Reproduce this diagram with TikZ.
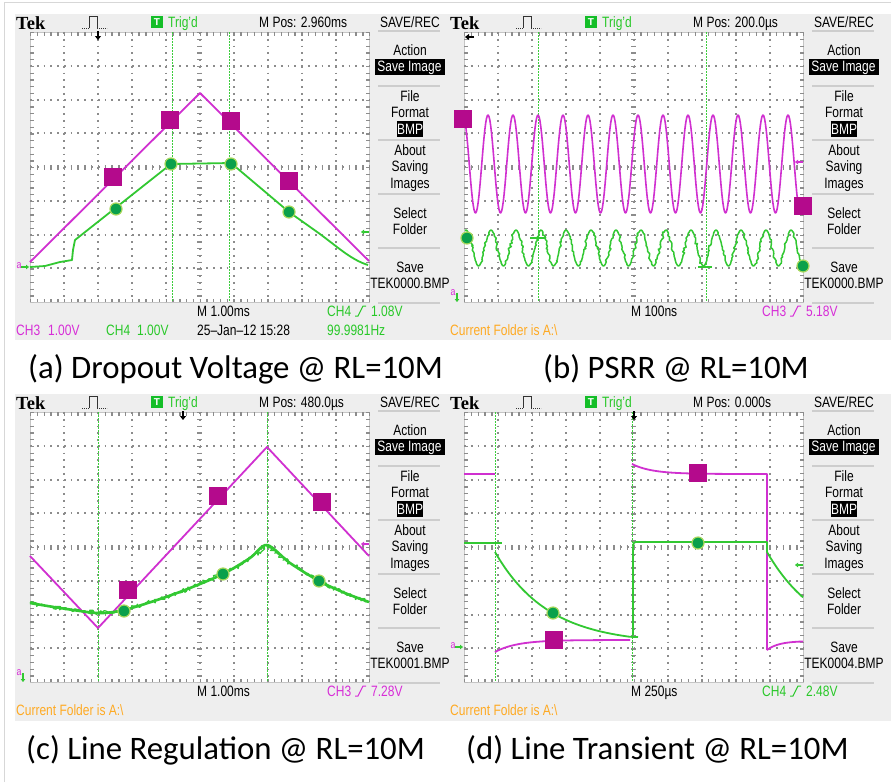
\documentclass[tikz,border=0pt]{standalone}
\usepackage{fontspec}
\usetikzlibrary{arrows.meta,decorations.pathmorphing}
\newfontfamily\scopefont[FakeStretch=0.8]{Liberation Sans}
\newfontfamily\plainsans{Liberation Sans}
\newfontfamily\tekfont{Liberation Serif}
\newfontfamily\capfont{Carlito}
\definecolor{scrgray}{RGB}{238,238,238}
\definecolor{gridgray}{RGB}{140,140,140}
\definecolor{sepgray}{RGB}{205,205,205}
\definecolor{edgegray}{RGB}{215,215,215}
\definecolor{trmag}{RGB}{208,48,208}
\definecolor{mkmag}{RGB}{180,10,140}
\definecolor{trgreen}{RGB}{50,200,50}
\definecolor{curgreen}{RGB}{60,205,60}
\definecolor{mkgreen}{RGB}{10,160,75}
\definecolor{mkgreenb}{RGB}{165,215,90}
\definecolor{tgreen}{RGB}{20,190,40}
\definecolor{lgreen}{RGB}{40,200,40}
\definecolor{lmag}{RGB}{215,45,215}
\definecolor{lorange}{RGB}{255,170,35}
\tikzset{
  stxt/.style={font=\scopefont\fontsize{15}{15}\selectfont, anchor=base west, inner sep=0pt},
  mtxt/.style={stxt, anchor=base},
  tek/.style={font=\tekfont\bfseries\fontsize{18.5}{18.5}\selectfont, anchor=base west, inner sep=0pt},
  capt/.style={font=\capfont\fontsize{32.8}{32.8}\selectfont, anchor=base west, inner sep=0pt},
  gdotv/.style={draw=gridgray, line width=2pt, dash pattern=on 1.8pt off 4.95pt},
  gdoth/.style={draw=gridgray, line width=2pt, dash pattern=on 1.8pt off 4.98pt},
  gtickv/.style={draw=gridgray, line width=5pt, dash pattern=on 1.4pt off 5.35pt},
  gtickh/.style={draw=gridgray, line width=5pt, dash pattern=on 1.4pt off 5.38pt},
  gedgev/.style={draw=gridgray, line width=3.5pt, dash pattern=on 1.4pt off 5.35pt},
  gedgeh/.style={draw=gridgray, line width=3.5pt, dash pattern=on 1.4pt off 5.38pt},
  gborder/.style={draw=gridgray!50, line width=0.6pt},
  sep/.style={draw=sepgray, line width=1.2pt},
  cursor/.style={draw=curgreen, line width=1pt, dash pattern=on 1.5pt off 1.5pt},
  magtr/.style={draw=trmag, line width=1.8pt, line join=round},
  grntr/.style={draw=trgreen, line width=1.8pt, line join=round},
  msq/.style={rectangle, fill=mkmag, minimum size=18pt, inner sep=0pt},
  gcirc/.style={circle, fill=mkgreen, draw=mkgreenb, line width=1.2pt, minimum size=12pt, inner sep=0pt},
  trarrow/.style={draw=black, line width=1.4pt, -{Triangle[length=4pt,width=6pt]}},
  smallarr/.style={line width=1.1pt, -{Triangle[length=3pt,width=4.5pt]}},
  pulsedot/.style={draw=black!80, line width=0.8pt, dash pattern=on 0.8pt off 1.2pt},
  pulsesol/.style={draw=black!80, line width=0.9pt},
  slopeg/.style={line width=1pt},
  gndtxt/.style={font=\scopefont\fontsize{11}{11}\selectfont, inner sep=0pt, text=lmag},
  tbox/.style={font=\plainsans\bfseries\fontsize{10}{10}\selectfont, inner sep=0pt, text=white, anchor=center},
}
\newcommand\tekframe[4]{%
  \fill[white] (30,32) rectangle (369.5,302);
  \draw[gborder] (30,32) rectangle (369.5,302);
  \foreach \i in {1,...,9} {\draw[gdotv] ({30+33.95*\i},32) -- ({30+33.95*\i},302);}
  \foreach \j in {1,...,7} {\draw[gdoth] (30,{32+33.75*\j}) -- (369.5,{32+33.75*\j});}
  \draw[gtickv] (199.75,32) -- (199.75,302);
  \draw[gtickh] (30,167) -- (369.5,167);
  \draw[gedgev] (31.75,32) -- (31.75,302);
  \draw[gedgev] (367.75,32) -- (367.75,302);
  \draw[gedgeh] (30,33.75) -- (369.5,33.75);
  \draw[gedgeh] (30,300.25) -- (369.5,300.25);
  \node[tek] (#1-tek) at (16,29) {Tek};
  \draw[pulsedot] (82,28) -- (89,28);
  \draw[pulsesol] (89,28) -- (89,16) -- (97,16) -- (97,28);
  \draw[pulsedot] (97,28) -- (107,28);
  \fill[tgreen] (151,16) rectangle (163,28);
  \node[tbox] (#1-tT) at (157,22) {T};
  \node[stxt, text=lgreen] (#1-trig) at (168,27) {Trig’d};
  \node[stxt] (#1-mpos) at (259,27) {M Pos: #2};
  \node[mtxt] (#1-sr) at (410,27) {SAVE/REC};
  \foreach \yy in {31,86,140,194,248,303} {\draw[sep] (378,\yy) -- (440,\yy);}
  \node[mtxt] (#1-act) at (410,55) {Action};
  \fill[black] (375,59) rectangle (445,75);
  \node[mtxt, text=white] (#1-si) at (409.5,71) {Save Image};
  \node[mtxt] (#1-file) at (410,101) {File};
  \node[mtxt] (#1-fmt) at (410,117) {Format};
  \fill[black] (397,121) rectangle (423,137);
  \node[mtxt, text=white] (#1-bmp) at (410,134) {BMP};
  \node[mtxt] (#1-ab) at (410,155) {About};
  \node[mtxt] (#1-sv) at (410,171) {Saving};
  \node[mtxt] (#1-im) at (410,188) {Images};
  \node[mtxt] (#1-sel) at (410,218) {Select};
  \node[mtxt] (#1-fol) at (410,234) {Folder};
  \node[mtxt] (#1-sa) at (410,272) {Save};
  \node[mtxt] (#1-tf) at (410,288) {#3};
  \node[stxt] (#1-tb) at (197,316) {M #4};
}
\begin{document}
\begin{tikzpicture}[x=1pt,y=-1pt]
\pgfmathsetseed{7}
\useasboundingbox (0,0) rectangle (891,782);
\fill[white] (0,0) rectangle (891,782);
\draw[edgegray, line width=1pt] (4,782) -- (4,2) -- (891,2);
\fill[scrgray] (15,14) rectangle (891,340);
\fill[scrgray] (15,394) rectangle (891,721);

% ---------- panel (a)
\begin{scope}
\clip (0,0) rectangle (448,345);
\tekframe{a}{2.960ms}{TEK0000.BMP}{1.00ms}
\draw[cursor] (172,32) -- (172,302);
\draw[cursor] (229,32) -- (229,302);
\draw[trarrow] (98,31) -- (98,40);
\draw[magtr] (30,262) -- (200,93) -- (369,261);
\draw[grntr] (30,267) -- (45,266) -- (60,262) -- (72,260) -- (73,250) -- (75,240) -- (171,164) -- (231,163) -- (289,212) -- (320,234) .. controls (340,249) and (352,260) .. (368,265);
\node[msq] (a-s1) at (113,177) {};
\node[msq] (a-s2) at (170,120) {};
\node[msq] (a-s3) at (231,121) {};
\node[msq] (a-s4) at (289,181) {};
\node[gcirc] (a-c1) at (116,209) {};
\node[gcirc] (a-c2) at (171,164) {};
\node[gcirc] (a-c3) at (231,164) {};
\node[gcirc] (a-c4) at (289,212) {};
\node[gndtxt] (a-gnd) at (19,266) {a};
\draw[smallarr, trgreen] (21,267) -- (29,267);
\draw[smallarr, trgreen] (369,232) -- (361,232);
\node[stxt, text=lgreen] (a-tch) at (327,316) {CH4};
\draw[slopeg, lgreen] (355,316) -- (358,316) -- (363,306) -- (366,306);
\node[stxt, text=lgreen] (a-tv) at (371,316) {1.08V};
\node[stxt, text=lmag] (a-ch3) at (16,335) {CH3};
\node[stxt, text=lmag] (a-ch3v) at (48,335) {1.00V};
\node[stxt, text=lgreen] (a-ch4) at (106,335) {CH4};
\node[stxt, text=lgreen] (a-ch4v) at (137,335) {1.00V};
\node[stxt] (a-date) at (197,335) {25–Jan–12 15:28};
\node[stxt, text=lgreen] (a-hz) at (327,335) {99.9981Hz};
\end{scope}

% ---------- panel (b)
\begin{scope}[shift={(434,0)}]
\tekframe{b}{200.0µs}{TEK0000.BMP}{100ns}
\draw[cursor] (104,32) -- (104,302);
\draw[cursor] (272,32) -- (272,302);
\draw[trarrow] (40,37) -- (31,37);
\draw[magtr, line width=1.6pt] plot[domain=30:363, samples=400] (\x, {164-49*cos(14.4*(\x-54))}) -- (364,203);
\draw[grntr, line width=1.5pt, decorate, decoration={random steps, segment length=2pt, amplitude=1.3pt}] plot[domain=31:369, samples=300] (\x, {248-18*cos(14.4*(\x-57))});
\draw[trgreen, line width=1.2pt] (96,238) -- (111,238);
\draw[trgreen, line width=1.2pt] (264,267) -- (278,267);
\node[msq] (b-s1) at (29,119) {};
\node[msq] (b-s2) at (369,206) {};
\node[gcirc] (b-c1) at (33,238) {};
\node[gcirc] (b-c2) at (369,266) {};
\node[gndtxt] (b-gnd) at (19,293) {a};
\draw[smallarr, trgreen] (23,293) -- (23,302);
\draw[smallarr, trmag] (369,162) -- (361,162);
\node[stxt, text=lmag] (b-tch) at (328,316) {CH3};
\draw[slopeg, lmag] (356,316) -- (359,316) -- (364,306) -- (367,306);
\node[stxt, text=lmag] (b-tv) at (372,316) {5.18V};
\node[stxt, text=lorange] (b-cf) at (16,335) {Current Folder is A:\textbackslash};
\end{scope}

% ---------- panel (c)
\begin{scope}[shift={(0,380)}]
\clip (0,0) rectangle (448,345);
\tekframe{c}{480.0µs}{TEK0001.BMP}{1.00ms}
\draw[cursor] (98,32) -- (98,302);
\draw[cursor] (267,32) -- (267,302);
\draw[trarrow] (183,31) -- (183,40);
\draw[magtr] (30,176) -- (98,248) -- (267,67) -- (369,176);
\draw[grntr, line width=2.6pt] plot[smooth] coordinates {(30,223) (60,228) (98,233) (124,230) (160,219) (190,208) (223,194) (250,178) (267,165) (290,183) (319,201) (345,213) (369,222)};
\draw[grntr, line width=1.2pt, decorate, decoration={random steps, segment length=1.5pt, amplitude=2.2pt}] (30,223) -- (45,226) -- (60,228) -- (80,231) -- (98,233) -- (110,232) -- (124,230) -- (142,225) -- (160,219) -- (175,214) -- (190,208) -- (206,201) -- (223,194) -- (237,187) -- (250,178) -- (259,172) -- (267,165) -- (278,174) -- (290,183) -- (304,192) -- (319,201) -- (332,207) -- (345,213) -- (357,218) -- (369,222);
\node[msq] (c-s1) at (128,210) {};
\node[msq] (c-s2) at (218,116) {};
\node[msq] (c-s3) at (322,122) {};
\node[gcirc] (c-c1) at (124,231) {};
\node[gcirc] (c-c2) at (223,194) {};
\node[gcirc] (c-c3) at (319,201) {};
\node[gndtxt] (c-gnd) at (19,293) {a};
\draw[smallarr, trgreen] (23,293) -- (23,302);
\draw[smallarr, trmag] (369,164) -- (361,164);
\node[stxt, text=lmag] (c-tch) at (327,316) {CH3};
\draw[slopeg, lmag] (355,316) -- (358,316) -- (363,306) -- (366,306);
\node[stxt, text=lmag] (c-tv) at (371,316) {7.28V};
\node[stxt, text=lorange] (c-cf) at (16,335) {Current Folder is A:\textbackslash};
\end{scope}

% ---------- panel (d)
\begin{scope}[shift={(434,380)}]
\tekframe{d}{0.000s}{TEK0004.BMP}{250µs}
\draw[cursor] (61,32) -- (61,302);
\draw[cursor] (198,32) -- (198,302);
\draw[trarrow] (200,31) -- (200,40);
\draw[magtr] (30,94) -- (61,94);
\draw[magtr] plot[domain=61:196, samples=60] (\x, {260+12*exp(-(\x-61)/22)});
\draw[magtr] plot[domain=198:333, samples=60] (\x, {94-10*exp(-(\x-198)/20)}) -- (333,270);
\draw[magtr] plot[domain=333:369, samples=20] (\x, {261+9*exp(-(\x-333)/12)});
\draw[grntr] (30,163) -- (68,163);
\draw[grntr] plot[domain=61:196, samples=60] (\x, {264-92*exp(-(\x-61)/53)}) -- (204,257);
\draw[grntr] (199,255) -- (199,168) .. controls (199.5,162) .. (204,162) -- (333,162) -- (333,172);
\draw[grntr] plot[domain=333:369, samples=20] (\x, {264-92*exp(-(\x-333)/53)});
\node[msq] (d-s1) at (120,260) {};
\node[msq] (d-s2) at (264,93) {};
\node[gcirc] (d-c1) at (119,233) {};
\node[gcirc] (d-c2) at (264,163) {};
\node[gndtxt] (d-gnd) at (19,266) {a};
\draw[smallarr, trgreen] (21,267) -- (29,267);
\draw[smallarr, trgreen] (369,185) -- (361,185);
\node[stxt, text=lgreen] (d-tch) at (328,316) {CH4};
\draw[slopeg, lgreen] (356,316) -- (359,316) -- (364,306) -- (367,306);
\node[stxt, text=lgreen] (d-tv) at (372,316) {2.48V};
\node[stxt, text=lorange] (d-cf) at (16,335) {Current Folder is A:\textbackslash};
\end{scope}

% ---------- captions
\node[capt] (capa) at (28,378) {(a) Dropout Voltage @ RL=10M};
\node[capt] (capb) at (543,378) {(b) PSRR @ RL=10M};
\node[capt] (capc) at (26,759) {(c) Line Regulation @ RL=10M};
\node[capt] (capd) at (466,759) {(d) Line Transient @ RL=10M};
\end{tikzpicture}
\end{document}
